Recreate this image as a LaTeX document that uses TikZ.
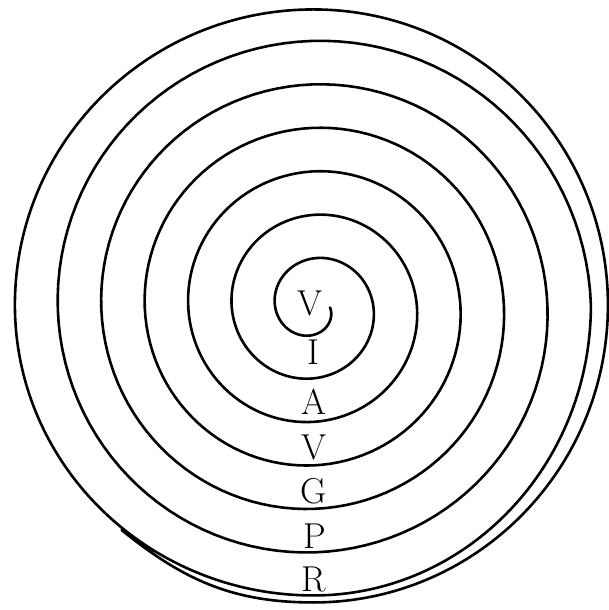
\documentclass[tikz,border=0pt]{standalone}
\begin{document}
\begin{tikzpicture}[
      x=1pt, y=1pt,
      % line of the spiral
      spiral/.style={line width=2.6pt, line cap=round, line join=round},
      % letters on the axis
      letter/.style={inner sep=0pt, font=\fontsize{36}{40}\selectfont}
  ]
  \useasboundingbox (-313.5,-302.5) rectangle (295.5,307.5);

  % point where the last turn runs into the one before it
  \coordinate (join) at (230:298.5 and 290.5);

  % === SPIRAL ===
  % six even turns, clockwise from the inner end (\t counts turns)
  \draw[spiral] plot[domain=0:6, samples=721, variable=\t]
      ({(16.5+43.5*\t)*cos(-360*\t)}, {(16.5+43.5*\t)*sin(-360*\t)})
    % last turn, nearly a circle
    arc[start angle=0, end angle=-90, x radius=277.5, y radius=290.5]
    arc[start angle=270, end angle=180, x radius=298.5, y radius=290.5]
    arc[start angle=180, end angle=90, x radius=298.5, y radius=295.5]
    arc[start angle=90, end angle=0, x radius=294.5, y radius=295.5]
    arc[start angle=0, end angle=-90, x radius=294.5, y radius=297.5]
    to[out=180, in=-39] (join);

  % === LETTERS ===
  \node[letter] (v1) at (-4,4) {V};
  \node[letter] (i) at (0,-45) {I};
  \node[letter] (a) at (0.5,-94.5) {A};
  \node[letter] (v2) at (0,-139.5) {V};
  \node[letter] (g) at (0,-183.5) {G};
  \node[letter] (p) at (1.5,-228.5) {P};
  \node[letter] (r) at (0,-271.5) {R};

\end{tikzpicture}
\end{document}
